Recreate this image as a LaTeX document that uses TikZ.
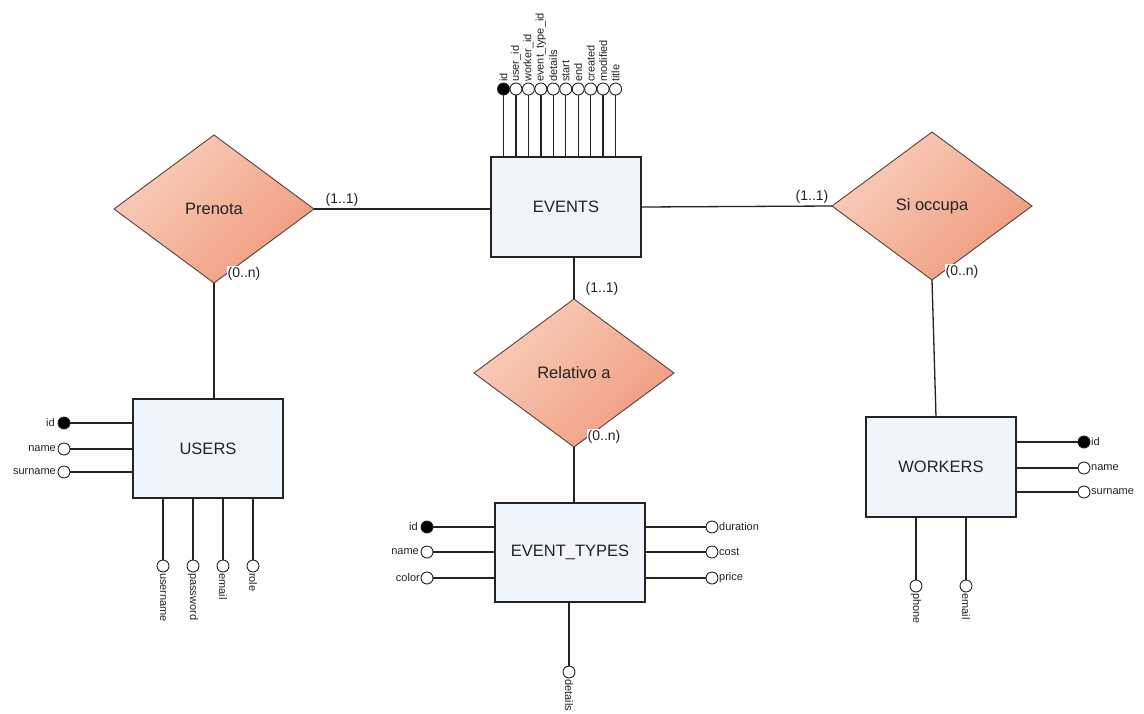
\documentclass[tikz,border=0pt]{standalone}
\usepackage{fontspec}
\setmainfont{Liberation Sans}
\usetikzlibrary{shapes.geometric}
\definecolor{boxfill}{RGB}{240,245,251}
\definecolor{dlight}{RGB}{249,206,188}
\definecolor{ddark}{RGB}{239,155,125}
\definecolor{dborder}{RGB}{85,65,60}
\definecolor{ink}{RGB}{35,35,35}
\begin{document}
\begin{tikzpicture}[x=1pt,y=-1pt,
  entity/.style={rectangle, draw=ink, line width=1.2pt, fill=boxfill, minimum width=150pt, minimum height=100pt, inner sep=0pt, outer sep=0pt, font=\fontsize{16.5}{19}\selectfont, text=ink},
  relation/.style={diamond, draw=dborder, line width=0.9pt, top color=dlight, bottom color=ddark, shading angle=45, minimum width=200pt, minimum height=148pt, inner sep=0pt, outer sep=0pt, font=\fontsize{16.5}{19}\selectfont, text=ink},
  conn/.style={draw=ink, line width=1.3pt},
  attr/.style={circle, draw=ink, line width=0.9pt, fill=white, minimum size=12pt, inner sep=0pt, outer sep=0pt},
  keyattr/.style={attr, fill=black},
  alabel/.style={font=\fontsize{11}{13}\selectfont, text=ink, inner sep=1pt},
  card/.style={font=\fontsize{14}{16}\selectfont, text=ink, inner sep=1pt},
  cardw/.style={card, fill=white}
]
\useasboundingbox (0,0) rectangle (1144,713);
\fill[white] (0,0) rectangle (1144,713);

% entities
\node[entity] (EVENTS) at (566,207) {EVENTS};
\node[entity, minimum height=99pt] (USERS) at (208,448.5) {USERS};
\node[entity, minimum height=99pt] (ET) at (570,552.5) {EVENT\_TYPES};
\node[entity] (WORKERS) at (941,467) {WORKERS};

% relations
\node[relation] (PRE) at (214,209) {Prenota};
\node[relation] (REL) at (574,373) {Relativo a};
\node[relation] (SIO) at (932,206) {Si occupa};

% connectors
\draw[conn] (PRE.east) -- (PRE.east -| EVENTS.west);
\draw[conn] (PRE.south) -- (PRE.south |- USERS.north);
\draw[conn] (REL.north |- EVENTS.south) -- (REL.north);
\draw[conn] (REL.south) -- (REL.south |- ET.north);
\draw[conn] (EVENTS.east) -- (SIO.west);
\draw[conn] (SIO.south) -- ([xshift=-5pt]WORKERS.north);

% cardinalities
\node[card] (c1) at (342,200) {(1..1)};
\node[cardw] (c2) at (244,274) {(0..n)};
\node[card] (c3) at (602,289) {(1..1)};
\node[cardw] (c4) at (604,437) {(0..n)};
\node[card] (c5) at (812,197) {(1..1)};
\node[cardw] (c6) at (962,272) {(0..n)};

% EVENTS attributes
\node[keyattr] (ev0) at (503.5,89) {};
\node[alabel, rotate=90, anchor=west] (evl0) at (ev0.north) {id};
\draw[conn] (ev0) -- (ev0 |- EVENTS.north);
\foreach \lab [count=\i] in {user\_id,worker\_id,event\_type\_id,details,start,end,created,modified,title} {
  \node[attr] (ev\i) at ({503.5+12.45*\i},89) {};
  \node[alabel, rotate=90, anchor=west] (evl\i) at (ev\i.north) {\lab};
  \draw[conn] (ev\i) -- (ev\i |- EVENTS.north);
}

% USERS attributes
\node[keyattr] (u1) at (64,423) {};
\node[attr] (u2) at (64,449) {};
\node[attr] (u3) at (64,472) {};
\node[alabel, anchor=east] (ul1) at ([xshift=-2pt]u1.west) {id};
\node[alabel, anchor=east] (ul2) at ([xshift=-1pt]u2.west) {name};
\node[alabel, anchor=east] (ul3) at ([xshift=-1pt]u3.west) {surname};
\foreach \n in {u1,u2,u3} { \draw[conn] (\n) -- (\n -| USERS.west); }
\foreach \lab [count=\i] in {username,password,email,role} {
  \node[attr] (ub\i) at ({133+30*\i},566) {};
  \node[alabel, rotate=-90, anchor=west] (ubl\i) at (ub\i.south) {\lab};
  \draw[conn] (ub\i) -- (ub\i |- USERS.south);
}

% EVENT_TYPES attributes
\node[keyattr] (e1) at (427,527) {};
\node[attr] (e2) at (427,552) {};
\node[attr] (e3) at (427,578) {};
\node[alabel, anchor=east] (el1) at ([xshift=-2pt]e1.west) {id};
\node[alabel, anchor=east] (el2) at ([xshift=-1pt]e2.west) {name};
\node[alabel, anchor=east] (el3) at ([xshift=0pt]e3.west) {color};
\foreach \n in {e1,e2,e3} { \draw[conn] (\n) -- (\n -| ET.west); }
\node[attr] (e4) at (712,527) {};
\node[attr] (e5) at (712,552) {};
\node[attr] (e6) at (712,578) {};
\node[alabel, anchor=west] (el4) at ([xshift=0pt]e4.east) {duration};
\node[alabel, anchor=west] (el5) at ([xshift=0pt]e5.east) {cost};
\node[alabel, anchor=west] (el6) at ([xshift=0pt]e6.east) {price};
\foreach \n in {e4,e5,e6} { \draw[conn] (\n) -- (\n -| ET.east); }
\node[attr] (e7) at (569,672) {};
\node[alabel, rotate=-90, anchor=west] (el7) at (e7.south) {details};
\draw[conn] (e7) -- (e7 |- ET.south);

% WORKERS attributes
\node[keyattr] (w1) at (1084,442) {};
\node[attr] (w2) at (1084,468) {};
\node[attr] (w3) at (1084,492) {};
\node[alabel, anchor=west] (wl1) at (w1.east) {id};
\node[alabel, anchor=west] (wl2) at (w2.east) {name};
\node[alabel, anchor=west] (wl3) at (w3.east) {surname};
\foreach \n in {w1,w2,w3} { \draw[conn] (\n) -- (\n -| WORKERS.east); }
\node[attr] (w4) at (916,586) {};
\node[attr] (w5) at (966,586) {};
\node[alabel, rotate=-90, anchor=west] (wl4) at (w4.south) {phone};
\node[alabel, rotate=-90, anchor=west] (wl5) at (w5.south) {email};
\foreach \n in {w4,w5} { \draw[conn] (\n) -- (\n |- WORKERS.south); }
\end{tikzpicture}
\end{document}
